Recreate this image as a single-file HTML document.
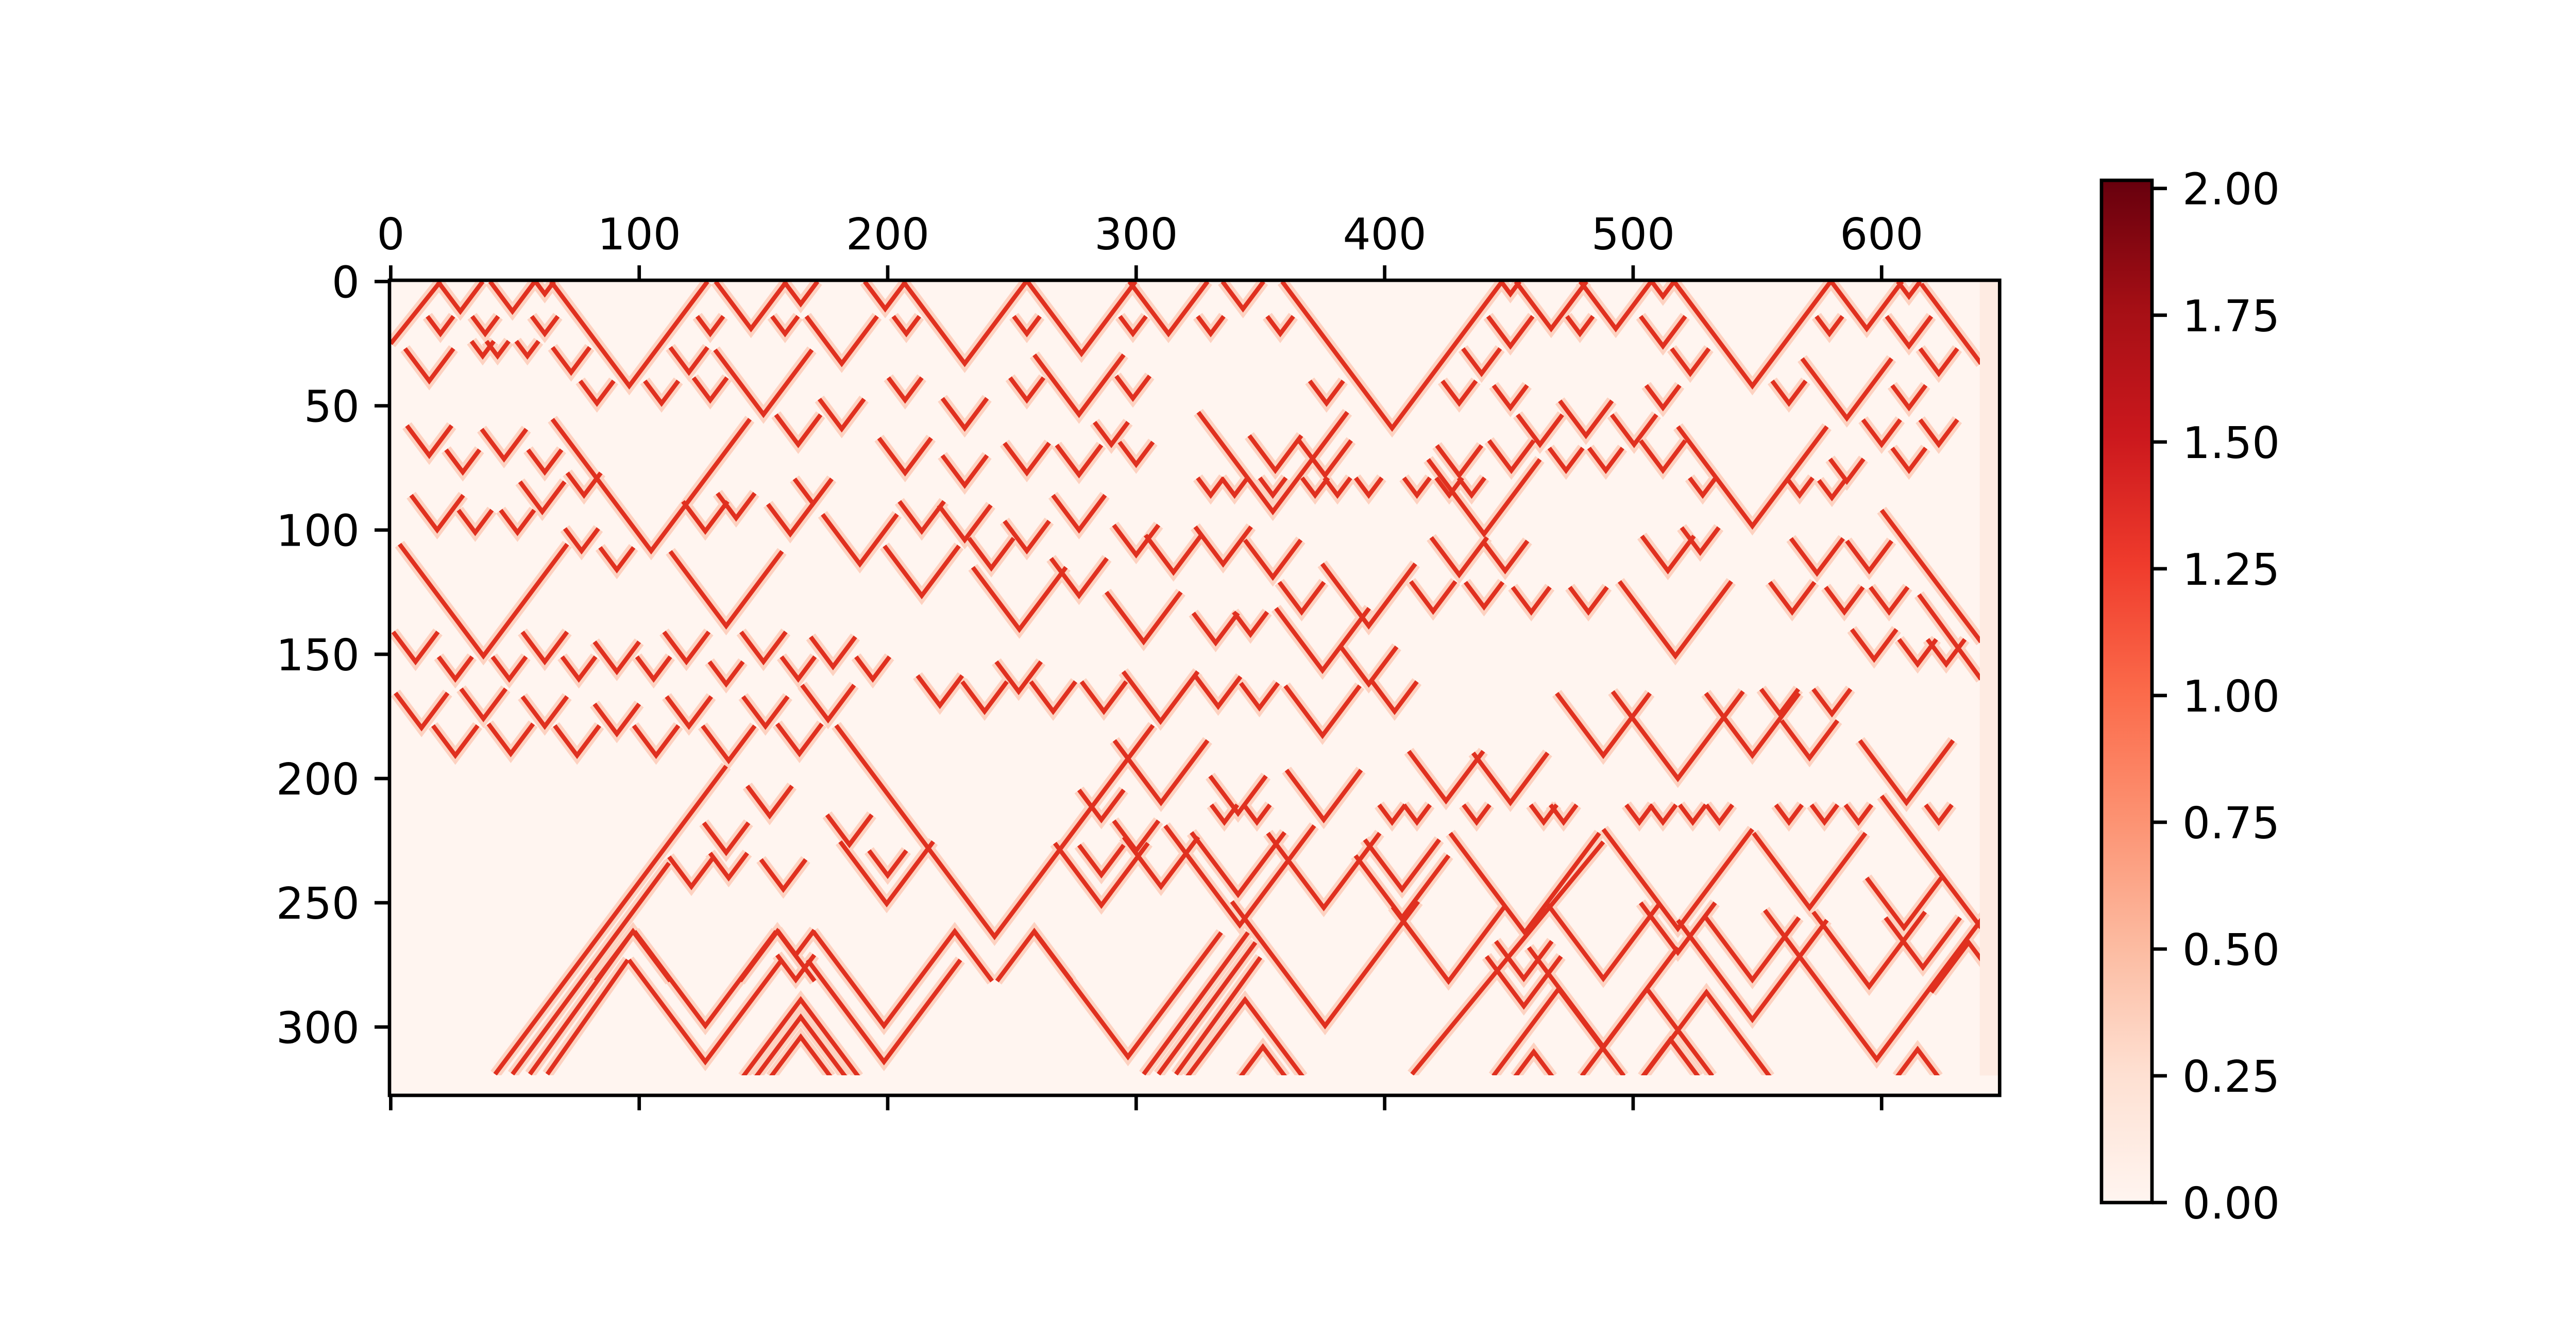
<!DOCTYPE html>
<html><head><meta charset="utf-8">
<style>
html,body{margin:0;padding:0;background:#fff;}
svg{display:block;}
text{font-family:"DejaVu Sans","Liberation Sans",sans-serif;font-size:85px;fill:#000;}
</style></head>
<body>
<svg id="fig" width="5042" height="2560" viewBox="0 0 5042 2560" xmlns="http://www.w3.org/2000/svg">
<defs>
<linearGradient id="reds" x1="0" y1="1" x2="0" y2="0">
<stop offset="0" stop-color="#fff5f0"/><stop offset="0.125" stop-color="#fee0d2"/>
<stop offset="0.25" stop-color="#fcbba1"/><stop offset="0.375" stop-color="#fc9272"/>
<stop offset="0.5" stop-color="#fb6a4a"/><stop offset="0.625" stop-color="#ef3b2c"/>
<stop offset="0.75" stop-color="#cb181d"/><stop offset="0.875" stop-color="#a50f15"/>
<stop offset="1" stop-color="#67000d"/></linearGradient>
<clipPath id="imgclip"><rect x="756" y="544" width="3087" height="1543"/></clipPath>
</defs>
<rect x="0" y="0" width="5042" height="2560" fill="#fff"/>
<g id="heatmap"></g>
<g id="axes"></g>
<g id="cbar"></g>
</svg>
<script>
// ---- data (data units: column index, row index) ----
// V shapes: [valleyX, valleyRow, armHeightRows]
const vShapes = [
[28,12,12],[49,12,12],[62,5,5],[96,42,42],[145,19,19],[165,9,9],[199,11,11],[231,33,33],[278,29,29],[313,21,21],
[343,11,11],[403,59,59],[450.6,5,5],[467,19,19],[493,19,19],[512,6,6],[548,42,42],[594,19,19],[611,6,6],
[20,21,7],[38,21,7],[62,21,7],[128.6,21,7],[158.7,21,7],[207.5,21,7],[256,21,7],[298.7,21,7],[330,21,7],[358,21,7],[478.6,21,7],[579,21,7],
[450.6,26,12],[512,26,12],[611,26,12],[439,37,10],[523,37,10],[623,37,10],
[15.5,40,13],[37,30,6],[43,30,6],[55,30,6],[72.6,36.5,10],[120,36.5,10],[181.5,33,19],
[83,49,9],[109,49,9],[128.6,47.7,9],[207,47.7,9],[256,47.7,9],[298.7,47,9],[376.6,49,9],[430,49,9],[450.6,50.8,9],[512,50.8,9],[562.7,49,9],[611,50.8,9],
[15.5,70,12],[45.6,71.4,12],[29,76.7,9],[62,76.7,9],[150,53.5,26],[164,65.6,12],[181.5,59.3,12],[207,77,14],[231,59,12],[231,82,12],[256,77,12],[277,53.5,24],[277,77.8,12],[290,65.6,9],[300,73.6,9],
[462.5,65.6,12],[481,62,14],[500.4,65.6,12],[356,76,14],[376,78,14],[430,78,12],[451,76,12],[473,76,9],[489,76,9],[512,76,12],[586,55,24],[600,65.6,10],[623,65.6,10],[611,76,9],[586,80.4,9],
[330,86,7],[339.6,86,7],[355,86,7],[372,86,7],[381,86,7],[393.6,86,7],[413,86,7],[426,86,7],[435,86,7],[528,86,7],[567,86,7],[580,87,7],
[355,92.6,40],[440,101.6,30],[548,98.4,40],
[335,113.7,15],[355,119,15],[430,118,15],[448.5,116.4,12],[514,116.4,14],[527,109,10],[574,117.4,14],[595,116.4,12],[366.6,133,12],[393.6,138.6,25],[419.5,132.7,12],[440,131,10],[459,133,10],[482,133,10],[564,133,12],[585,133,10],[603,133,10],
[332,145.4,12],[346,142,9],[375,156.5,25],[393.6,162,15],[517,150.7,30],[614.5,154,10],[626,154,10],[597,152,12],
[18.7,100,14],[34,101,9],[51,101,9],[77.8,86,9],[61,92.6,12],[104.8,108.4,53],[91,116,9],[76.8,108.4,9],[126.6,100.5,12],[139,95.2,10],[160.8,101.6,12],[170,89.4,10],[188.8,113.7,20],[213.7,100.5,12],[231,104,14],[241.7,115.3,12],[256,108.4,12],[277,100,14],[300,110,12],[315,117,15],
[37.3,150.7,45],[10,153,12],[26,160,9],[47.7,160,9],[62,153,12],[75.7,160,9],[91,157,12],[105.8,160,9],[119,153,12],[135,138.6,30],[135,162,9],[150,153,12],[164,160,9],[178,155,12],[194,160,9],[213.7,126.4,20],[253,140,25],[277,126.4,15],[303,145,20],
[12.4,179.6,14],[26,190.7,12],[37.3,175.9,12],[48.3,190,12],[62,179,12],[75,190.7,12],[91,182,12],[106.8,190.7,12],[120,179,12],[136,192.8,14],[150.8,179,12],[164.5,190,12],[176,176.4,14],[221,170.6,12],[239,173,12],[252.7,165,12],[266.6,173,12],[287,173,12],[309.8,177,20],
[152.5,215,12],[135,229.8,12],[121,243.5,12],[158,244.6,12],[136,240,10],[199.6,250.4,25],[200,239,10],[184.6,226.6,12],[243,263.6,85],[286,251,25],[310,243.5,20],[300,229,12],[286,238.8,12],[310,209.7,25],[286,216.6,12],
[126.6,299.5,38],[126.6,314,41],[198.5,299.5,38],[198.5,314,41],[163,271,10],[163,281,10],[296.7,312,50],
[333,171,12],[349.6,171.6,10],[375,182.7,20],[404,173,12],[341,214,15],[375.5,216.6,20],[341,246.7,25],[375.5,252,30],[407,244.6,20],[407,256,25],[425.7,281.6,30],[424.7,209,20],[450.6,209.7,20],[488,190.7,25],[518,200,35],[488,280.5,30],[518,270,20],[548,190.7,25],[559,174,10],[580,174,10],[571,191.7,15],[610,209.7,25],[571,252,30],[616.6,276,20],[609,260,20],
[335.5,217.6,7],[348.6,217.6,7],[403,217.6,7],[413,217.6,7],[437,217.6,7],[464,217.6,7],[472,217.6,7],[502.5,217.6,7],[512,217.6,7],[524,217.6,7],[534.7,217.6,7],[562.7,217.6,7],[577,217.6,7],[590.7,217.6,7],[623,217.6,7],
[376,299.5,50],[488,308,40],[548,297,40],[548,281,25],[595,283.7,30],[456,291.6,20],[456.4,262,40],[518,260.4,40],[341.7,259,40],[598,313,60],[456,280.5,15]
];
// Apex shapes: [apexX, apexRow, armHeightRows] (arms run downward)
const aShapes = [
[351,308,12],[460,310,10],[515,305,15],[614.5,309,11],[343.8,289,31],[470,284.7,35],[505.6,284.7,35],[529.5,286,34],[165,289,31],[165,296,24],[165,304,16],
[97.5,261.5,20],[155.6,261.5,20],[227,261.5,20],[259,261.5,20],[635,266,20]
];
// Straight segments: [x0,row0,x1,row1]
const segs = [
[42,319,135,195],[49,319,112,234],[56,319,97.5,261.5],[63,319,95.4,273],
[303,319,345,262],[309,319,348,266],[316,319,350,272],[411,319,488,225.5],
[0,25,20,0],[640,33,616,1],[640,145,600,92],[640,160,615,126],[640,260,600,207]
];
const xTicks = [0,100,200,300,400,500,600];
const yTicks = [0,50,100,150,200,250,300];
const cbTicks = [0,0.25,0.5,0.75,1,1.25,1.5,1.75,2];
const cbLabels = ["0.00","0.25","0.50","0.75","1.00","1.25","1.50","1.75","2.00"];

// ---- scales ----
const PX = 4.823, X0 = 756, Y0 = 544, SLOPE = 0.75;
function xs(d){ return X0 + (d+0.5)*PX; }
function ys(d){ return Y0 + (d+0.5)*PX; }
const CB_TOP = 350, CB_BOT = 2334, CB_VMAX = 2.016;
function cbY(v){ return CB_BOT - (v/CB_VMAX)*(CB_BOT-CB_TOP); }

const NS = "http://www.w3.org/2000/svg";
function mk(tag, attrs, parent){ const e=document.createElementNS(NS,tag); for(const k in attrs) e.setAttribute(k,attrs[k]); parent.appendChild(e); return e; }

// ---- heatmap ----
const hm = document.getElementById('heatmap');
const bg = mk('rect',{x:xs(-0.5),y:ys(-0.5),width:648*PX,height:328*PX,fill:'#fff5f0'},hm);


const strip = mk('rect',{x:xs(639.5),y:ys(-0.5),width:8*PX,height:320*PX,fill:'#feebe2'},hm);


const lines = mk('g',{'clip-path':'url(#imgclip)'},hm);


let dPath = "";
function addPath(pts){
  dPath += "M"+pts.map(p=>xs(p[0]).toFixed(1)+","+ys(p[1]).toFixed(1)).join("L");
}
vShapes.forEach(v=>{ const [cx,cy,h]=v; addPath([[cx-SLOPE*h,cy-h],[cx,cy],[cx+SLOPE*h,cy-h]]); });
aShapes.forEach(a=>{ const [cx,cy,h]=a; addPath([[cx-SLOPE*h,cy+h],[cx,cy],[cx+SLOPE*h,cy+h]]); });
segs.forEach(s=>{ addPath([[s[0],s[1]],[s[2],s[3]]]); });
const halo = mk('path',{d:dPath,fill:'none',stroke:'#fcbba1','stroke-width':22,'stroke-opacity':0.6,'stroke-linejoin':'miter'},lines);


const core = mk('path',{d:dPath,fill:'none',stroke:'#e0301f','stroke-width':8.5,'stroke-linejoin':'miter'},lines);



// ---- axes ----
const ax = document.getElementById('axes');
const L = xs(-0.5), R = xs(647.5), T = ys(-0.5), B = ys(327.5);
const frame = mk('rect',{x:L,y:T,width:R-L,height:B-T,fill:'none',stroke:'#000','stroke-width':6.7},ax);


xTicks.forEach((t,i)=>{
  const x = xs(t);
  const tt = mk('line',{x1:x,y1:T,x2:x,y2:T-29,stroke:'#000','stroke-width':6.7},ax);
  
  
  const tb = mk('line',{x1:x,y1:B,x2:x,y2:B+29,stroke:'#000','stroke-width':6.7},ax);
  
  
  const lb = mk('text',{x:x,y:T-29-29-2,'text-anchor':'middle'},ax);
  lb.textContent = String(t);
  
  
});
yTicks.forEach((t,i)=>{
  const y = ys(t);
  const tk = mk('line',{x1:L,y1:y,x2:L-29,y2:y,stroke:'#000','stroke-width':6.7},ax);
  
  
  const lb = mk('text',{x:L-29-29,y:y+31,'text-anchor':'end'},ax);
  lb.textContent = String(t);
  
  
});

// ---- colorbar ----
const cb = document.getElementById('cbar');
const CBL = 4079, CBR = 4177;
const grad = mk('rect',{x:CBL,y:CB_TOP,width:CBR-CBL,height:CB_BOT-CB_TOP,fill:'url(#reds)'},cb);


const cbf = mk('rect',{x:CBL,y:CB_TOP,width:CBR-CBL,height:CB_BOT-CB_TOP,fill:'none',stroke:'#000','stroke-width':6.7},cb);


cbTicks.forEach((v,i)=>{
  const y = cbY(v);
  const tk = mk('line',{x1:CBR,y1:y,x2:CBR+29,y2:y,stroke:'#000','stroke-width':6.7},cb);
  
  
  const lb = mk('text',{x:CBR+29+30,y:y+31,'text-anchor':'start'},cb);
  lb.textContent = cbLabels[i];
  
  
});
</script>
</body></html>
